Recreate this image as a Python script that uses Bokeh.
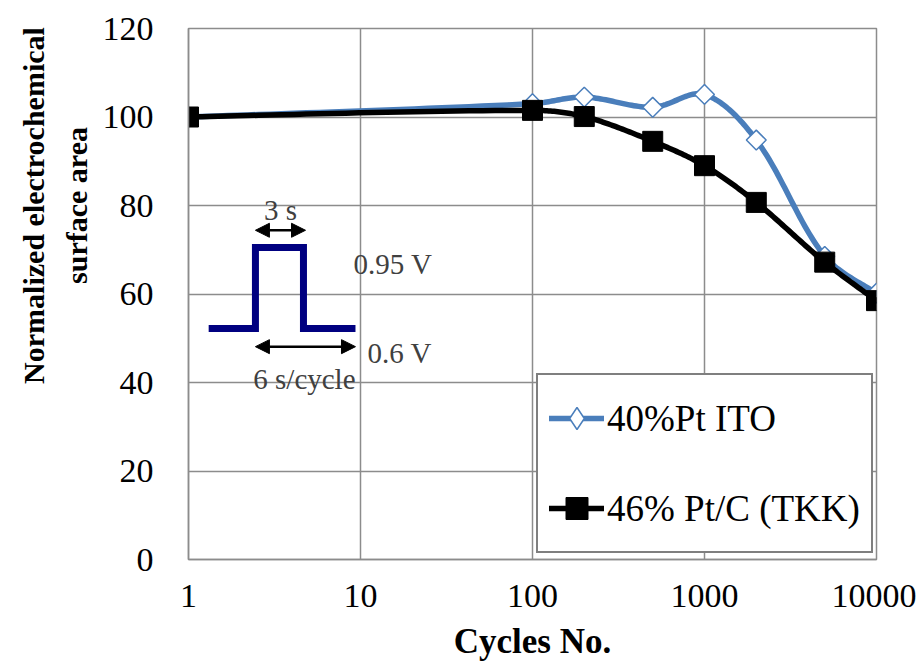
import numpy as np
from math import pi
from bokeh.plotting import figure
from bokeh.models import (Legend, LegendItem, Label, Arrow, NormalHead,
                          FixedTicker)
from bokeh.embed import file_html
from bokeh.resources import INLINE

# ---- data ----
cycles = [1, 100, 200, 500, 1000, 2000, 5000, 10000]
ito_pt = [100, 103.0, 104.5, 102.2, 105.1, 94.8, 68.5, 60.2]
tkk_pt = [100, 101.5, 100.1, 94.5, 89.0, 80.7, 67.2, 58.5]
x_ticks = [1, 10, 100, 1000, 10000]
x_labels = ["1", "10", "100", "1000", "10000"]
y_ticks = [0, 20, 40, 60, 80, 100, 120]

# inset waveform (annotation drawing, in data coordinates)
wave_x = [1.31, 2.45, 2.45, 4.66, 4.66, 9.35]
wave_y = [52.2, 52.2, 70.5, 70.5, 52.2, 52.2]

SERIF = "Liberation Serif"
BLUE = "#4A7EBB"
GRID = "#8C8C8C"
TXT = "#404040"

# pixel aspect of the plot frame, used only for the smoothed-line rendering
PX_DEC = 172.0
PX_UNIT = 4.425


def smooth_path(xs, ys, n=30):
    """Excel-like smoothed line through the data points (rendering only)."""
    P = np.column_stack([np.log10(xs) * PX_DEC, np.array(ys, float) * PX_UNIT])
    m = len(P)
    outx, outy = [], []
    for i in range(m - 1):
        p0 = P[i - 1] if i > 0 else P[i]
        p1, p2 = P[i], P[i + 1]
        p3 = P[i + 2] if i + 2 < m else P[i + 1]
        d01 = np.linalg.norm(p1 - p0)
        d12 = np.linalg.norm(p2 - p1)
        d23 = np.linalg.norm(p3 - p2)
        f1 = d12 / (d01 + d12) if d01 > 0 else 0.5
        f2 = d12 / (d12 + d23) if d23 > 0 else 0.5
        c1 = p1 + (p2 - p0) * f1 / 3.0
        c2 = p2 - (p3 - p1) * f2 / 3.0
        t = np.linspace(0, 1, n)[:, None]
        b = ((1 - t) ** 3) * p1 + 3 * ((1 - t) ** 2) * t * c1 + 3 * (1 - t) * t ** 2 * c2 + t ** 3 * p2
        if i > 0:
            b = b[1:]
        outx.extend(list(10 ** (b[:, 0] / PX_DEC)))
        outy.extend(list(b[:, 1] / PX_UNIT))
    return outx, outy


p = figure(width=916, height=662, x_axis_type="log",
           x_range=(1, 10000), y_range=(0, 120),
           output_backend="svg", toolbar_location=None,
           min_border_left=188, min_border_right=40,
           min_border_top=28, min_border_bottom=103)
p.background_fill_color = "white"
p.border_fill_color = "white"
p.outline_line_color = GRID
p.outline_line_width = 1.5

# axes
p.xaxis.ticker = FixedTicker(ticks=x_ticks)
p.xaxis.major_label_overrides = {t: l for t, l in zip(x_ticks, x_labels)}
p.yaxis.ticker = FixedTicker(ticks=y_ticks)
for ax in (p.xaxis, p.yaxis):
    ax.axis_line_color = GRID
    ax.axis_line_width = 1.5
    ax.major_tick_line_color = None
    ax.minor_tick_line_color = None
    ax.major_tick_out = 0
    ax.major_tick_in = 0
    ax.minor_tick_out = 0
    ax.major_label_text_font = SERIF
    ax.major_label_text_font_size = "34px"
    ax.major_label_text_color = "black"
p.xaxis.major_label_standoff = 25
p.yaxis.major_label_standoff = 35

p.xgrid.grid_line_color = GRID
p.xgrid.grid_line_width = 1.5
p.ygrid.grid_line_color = GRID
p.ygrid.grid_line_width = 1.5

# axis titles, placed like the reference (in the side panels)
for txt, xv in (("Normalized electrochemical", 0.1256), ("surface area", 0.222)):
    p.add_layout(Label(x=xv, y=80, text=txt,
                       angle=pi / 2, text_align="center", text_baseline="middle",
                       text_font=SERIF, text_font_style="bold",
                       text_font_size="30px", text_color="black"), "left")
p.add_layout(Label(x=100, y=-18.6, text="Cycles No.",
                   text_align="center", text_baseline="middle",
                   text_font=SERIF, text_font_style="bold",
                   text_font_size="35px", text_color="black"), "below")

# series
ix, iy = smooth_path(cycles, ito_pt)
kx, ky = smooth_path(cycles, tkk_pt)

ito_line = p.line(ix, iy, line_color=BLUE, line_width=5.5,
                  line_cap="round", line_join="round")
ito_pts = p.scatter(cycles, ito_pt, marker="square", angle=pi / 4, size=14,
                    fill_color="white", line_color=BLUE, line_width=1.5)
# diamond shown only as the legend swatch
ito_leg = p.scatter(cycles, ito_pt, marker="diamond", size=22,
                    fill_color="white", line_color=BLUE, line_width=1.5,
                    visible=False)
tkk_line = p.line(kx, ky, line_color="black", line_width=5.5,
                  line_cap="round", line_join="round")
tkk_pts = p.scatter(cycles, tkk_pt, marker="square", size=20,
                    fill_color="black", line_color="black")

# inset waveform
p.line(wave_x, wave_y, line_color="#000080", line_width=7, line_join="miter")
for x0, x1, y in ((2.45, 4.79, 74.4), (2.45, 9.35, 48.1)):
    p.add_layout(Arrow(x_start=x0, x_end=x1, y_start=y, y_end=y,
                       line_color="black", line_width=2.5,
                       start=NormalHead(size=14, fill_color="black", line_color="black"),
                       end=NormalHead(size=14, fill_color="black", line_color="black")))
for txt, x, y, align in (("3 s", 3.43, 79.0, "center"),
                         ("0.95 V", 9.11, 66.7, "left"),
                         ("0.6 V", 10.98, 46.6, "left"),
                         ("6 s/cycle", 4.72, 40.9, "center")):
    p.add_layout(Label(x=x, y=y, text=txt, text_align=align, text_baseline="middle",
                       text_font=SERIF, text_font_size="29px", text_color=TXT))

# legend
legend = Legend(items=[LegendItem(label="40%Pt ITO", renderers=[ito_line, ito_leg]),
                       LegendItem(label="46% Pt/C (TKK)", renderers=[tkk_line, tkk_pts])],
                location=(348, 6))
legend.label_text_font = SERIF
legend.label_text_font_size = "37px"
legend.label_text_color = "black"
legend.glyph_width = 55
legend.glyph_height = 64
legend.label_height = 64
legend.label_standoff = 3
legend.spacing = 26
legend.padding = 11
legend.margin = 0
legend.border_line_color = "black"
legend.border_line_width = 2
legend.background_fill_color = "white"
legend.background_fill_alpha = 1
legend.inactive_fill_alpha = 0
p.add_layout(legend, "center")

open("out.html", "w").write(file_html(p, INLINE))
